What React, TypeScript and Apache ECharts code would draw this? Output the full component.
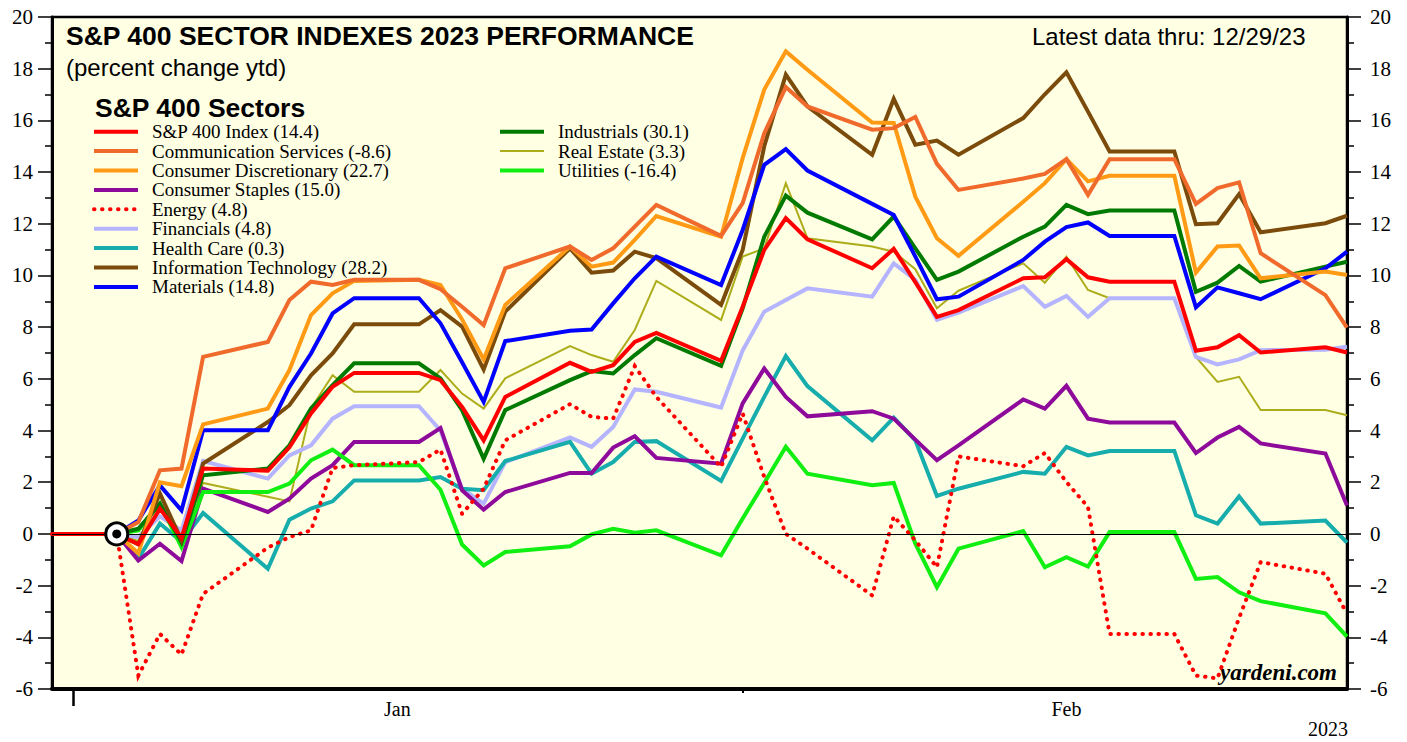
import React, { useEffect, useRef } from 'react';
import * as echarts from 'echarts';

// x values: day number counted from the left edge of the plot (weekday observations)
const days = [0, 3, 4, 5, 6, 7, 10, 11, 12, 13, 14, 17, 18, 19, 20, 21, 24, 25, 26, 27, 28, 31, 32, 33, 34, 35, 38, 39, 40, 41, 42, 45, 46, 47, 48, 49, 52, 53, 54, 55, 56, 59, 60];

const sp400 = [0, 0, -0.4, 0.98, -0.15, 2.53, 2.45, 3.35, 4.66, 5.69, 6.23, 6.23, 5.95, 4.91, 3.62, 5.3, 6.62, 6.27, 6.53, 7.43, 7.78, 6.7, 8.79, 10.99, 12.22, 11.4, 10.28, 11.03, 9.74, 8.4, 8.66, 9.89, 9.93, 10.63, 9.93, 9.76, 9.76, 7.09, 7.22, 7.69, 7.02, 7.22, 7.02];
const commServices = [0, 0, 0.46, 2.46, 2.53, 6.85, 7.43, 9.05, 9.76, 9.63, 9.83, 9.83, 9.47, 8.79, 8.08, 10.28, 11.12, 10.6, 11.05, 11.89, 12.73, 11.53, 12.8, 15.5, 17.29, 16.54, 15.64, 15.7, 16.13, 14.32, 13.31, 13.75, 13.93, 14.5, 13.12, 14.5, 14.5, 12.77, 13.38, 13.6, 10.86, 9.24, 7.98];
const consDisc = [0, 0, -0.75, 2.0, 1.85, 4.24, 4.85, 6.34, 8.47, 9.31, 9.79, 9.83, 9.63, 8.3, 6.75, 8.86, 11.12, 10.34, 10.5, 11.38, 12.3, 11.5, 14.54, 17.19, 18.67, 17.96, 15.92, 15.9, 13.05, 11.44, 10.76, 12.85, 13.57, 14.5, 13.64, 13.86, 13.86, 10.11, 11.12, 11.16, 9.89, 10.15, 10.02];
const consStaples = [0, 0, -1.03, -0.38, -1.05, 1.75, 0.85, 1.36, 2.14, 2.66, 3.56, 3.56, 4.1, 1.69, 0.94, 1.62, 2.36, 2.36, 3.34, 3.78, 2.94, 2.72, 5.05, 6.4, 5.3, 4.55, 4.75, 4.46, 3.65, 2.85, 3.43, 5.2, 4.85, 5.73, 4.46, 4.31, 4.31, 3.13, 3.73, 4.14, 3.5, 3.11, 1.1];
const energy = [0, 0, -5.48, -3.87, -4.67, -2.32, -0.53, -0.12, 0.14, 2.55, 2.66, 2.78, 3.26, 0.78, 1.75, 3.62, 5.02, 4.53, 4.46, 6.49, 5.3, 2.59, 4.66, 2.2, 0.0, -0.57, -2.38, 0.68, -0.25, -1.29, 3.0, 2.62, 3.13, 2.01, 1.04, -3.87, -3.87, -5.48, -5.59, -3.25, -1.09, -1.54, -3.09];
const financials = [0, 0, -0.12, 0.68, 0.14, 2.82, 2.14, 3.04, 3.43, 4.46, 4.94, 4.94, 4.0, 1.75, 1.17, 2.78, 3.73, 3.37, 4.14, 5.59, 5.5, 4.89, 7.1, 8.6, 9.05, 9.5, 9.18, 10.47, 9.83, 8.28, 8.56, 9.59, 8.79, 9.21, 8.4, 9.12, 9.12, 6.85, 6.56, 6.75, 7.11, 7.13, 7.24];
const healthCare = [0, 0, -0.96, 0.4, -0.3, 0.81, -1.35, 0.55, 0.98, 1.26, 2.07, 2.07, 2.2, 1.75, 1.69, 2.82, 3.56, 2.33, 2.78, 3.56, 3.59, 2.05, 3.69, 5.3, 6.88, 5.72, 3.62, 4.5, 3.62, 1.47, 1.75, 2.4, 2.33, 3.37, 3.04, 3.21, 3.21, 0.72, 0.4, 1.45, 0.4, 0.52, -0.34];
const infoTech = [0, 0, -0.4, 1.57, -0.25, 2.72, 4.33, 4.98, 6.14, 6.98, 8.11, 8.11, 8.66, 8.02, 6.36, 8.6, 11.05, 10.11, 10.19, 10.92, 10.67, 8.86, 10.99, 15.0, 17.77, 16.54, 14.67, 16.83, 15.06, 15.22, 14.67, 16.09, 17.01, 17.86, 16.34, 14.8, 14.8, 11.98, 12.02, 13.15, 11.67, 12.02, 12.31];
const materials = [0, 0, 0.52, 1.88, 0.91, 4.01, 4.01, 5.69, 6.98, 8.53, 9.12, 9.12, 8.15, 6.64, 5.11, 7.46, 7.86, 7.91, 8.92, 9.89, 10.73, 9.63, 11.76, 14.28, 14.89, 14.06, 12.77, 12.34, 10.73, 9.08, 9.18, 10.6, 11.31, 11.87, 12.05, 11.53, 11.53, 8.77, 9.54, 9.31, 9.08, 10.28, 10.92];
const industrials = [0, 0, 0.2, 1.17, -0.32, 2.27, 2.53, 3.43, 4.85, 5.76, 6.6, 6.6, 6.02, 4.79, 2.91, 4.79, 5.95, 6.3, 6.21, 6.92, 7.57, 6.5, 8.73, 11.5, 13.09, 12.43, 11.4, 12.28, 11.05, 9.83, 10.15, 11.5, 11.89, 12.73, 12.37, 12.51, 12.51, 9.37, 9.72, 10.37, 9.76, 10.34, 10.53];
const realEstate = [0, 0, -0.27, 1.49, -0.19, 1.97, 1.44, 1.26, 4.86, 6.14, 5.5, 5.5, 6.34, 5.43, 4.85, 6.02, 7.27, 6.92, 6.66, 7.89, 9.79, 8.28, 10.73, 11.05, 13.57, 11.44, 11.12, 10.92, 10.24, 8.73, 9.41, 10.47, 9.72, 10.73, 9.44, 9.12, 9.12, 6.85, 5.88, 6.08, 4.79, 4.79, 4.59];
const utilities = [0, 0, 0.14, 1.17, -0.51, 1.62, 1.62, 1.95, 2.85, 3.26, 2.66, 2.66, 1.71, -0.41, -1.22, -0.7, -0.48, -0.02, 0.2, 0.05, 0.14, -0.83, 0.6, 1.97, 3.37, 2.33, 1.88, 1.97, -0.38, -2.06, -0.57, 0.11, -1.29, -0.9, -1.26, 0.07, 0.07, -1.74, -1.67, -2.26, -2.6, -3.07, -3.97];

const startMarker = [[3, 0]];

const monthLabels = ['Jan', 'Feb'];
const monthLabelDays = [16, 47];
const yearTickDays = [1];
const monthTickDays = [32];

const legendLeft = [
  'S&P 400 Index (14.4)',
  'Communication Services (-8.6)',
  'Consumer Discretionary (22.7)',
  'Consumer Staples (15.0)',
  'Energy (4.8)',
  'Financials (4.8)',
  'Health Care (0.3)',
  'Information Technology (28.2)',
  'Materials (14.8)',
];
const legendRight = ['Industrials (30.1)', 'Real Estate (3.3)', 'Utilities (-16.4)'];

type Spec = { name: string; values: number[]; color: string; width: number; dash?: number[] };

// drawing order (first drawn = bottom)
const specs: Spec[] = [
  { name: 'Real Estate (3.3)', values: realEstate, color: '#ADAD1C', width: 2 },
  { name: 'Financials (4.8)', values: financials, color: '#B4B4FF', width: 4 },
  { name: 'Health Care (0.3)', values: healthCare, color: '#17ADAD', width: 4 },
  { name: 'Consumer Staples (15.0)', values: consStaples, color: '#8E0A9A', width: 4 },
  { name: 'Utilities (-16.4)', values: utilities, color: '#11EE11', width: 4 },
  { name: 'Energy (4.8)', values: energy, color: '#FF0000', width: 4, dash: [0.5, 7.5] },
  { name: 'Industrials (30.1)', values: industrials, color: '#007A00', width: 4 },
  { name: 'Information Technology (28.2)', values: infoTech, color: '#7B4B0B', width: 4 },
  { name: 'Materials (14.8)', values: materials, color: '#0000FF', width: 4 },
  { name: 'Consumer Discretionary (22.7)', values: consDisc, color: '#FF9A14', width: 4 },
  { name: 'Communication Services (-8.6)', values: commServices, color: '#F06A2C', width: 4 },
  { name: 'S&P 400 Index (14.4)', values: sp400, color: '#FF0000', width: 4 },
];

const SERIF = 'Liberation Serif';
const SANS = 'Liberation Sans';

export default function App() {
  const ref = useRef<HTMLDivElement>(null);

  useEffect(() => {
    if (!ref.current) return;
    const chart = echarts.init(ref.current, undefined, { renderer: 'svg' });

    const lineSeries = specs.map((s, i) => ({
      type: 'line',
      name: s.name,
      data: days.map((d, k) => [d, s.values[k]]),
      symbol: 'none',
      showSymbol: false,
      silent: true,
      emphasis: { disabled: true },
      z: 2,
      lineStyle: {
        color: s.color,
        width: s.width,
        type: s.dash ? s.dash : 'solid',
        cap: s.dash ? 'round' : 'butt',
        join: 'miter',
      },
      itemStyle: { color: s.color },
      markLine:
        i === 0
          ? {
              silent: true,
              symbol: ['none', 'none'],
              label: { show: false },
              lineStyle: { color: '#000', width: 1, type: 'solid' },
              emphasis: { disabled: true },
              data: [{ yAxis: 0 }],
            }
          : undefined,
    }));

    const yAxisBase = {
      type: 'value',
      min: -6,
      max: 20,
      interval: 2,
      axisLine: { show: true, onZero: false, lineStyle: { color: '#000', width: 3 } },
      axisTick: { show: true, length: 14, lineStyle: { color: '#000', width: 1.5 } },
      minorTick: { show: true, splitNumber: 2, length: 7, lineStyle: { color: '#000', width: 1.5 } },
      splitLine: { show: false },
      minorSplitLine: { show: false },
    };

    const legendBase = {
      orient: 'vertical',
      itemWidth: 44,
      itemHeight: 14,
      itemGap: 0,
      selectedMode: false,
      itemStyle: { opacity: 0 },
      lineStyle: { width: 'inherit' },
      textStyle: {
        fontFamily: SERIF,
        fontSize: 19,
        color: '#000',
        lineHeight: 19.4,
        padding: [0, 0, 0, 9],
      },
    };

    chart.setOption({
      animation: false,
      backgroundColor: '#ffffff',
      grid: {
        left: 52,
        right: 60,
        top: 17,
        bottom: 53,
        show: true,
        backgroundColor: '#FFFFE4',
        borderColor: '#000',
        borderWidth: 2.5,
      },
      xAxis: [
        {
          type: 'value',
          min: 0,
          max: 60,
          position: 'bottom',
          axisLine: { show: true, onZero: false, lineStyle: { color: '#000', width: 4 } },
          axisTick: { show: true, customValues: yearTickDays, length: 17, lineStyle: { color: '#000', width: 2.5 } },
          axisLabel: {
            show: true,
            customValues: monthLabelDays,
            formatter: (v: number) => monthLabels[monthLabelDays.indexOf(v)] ?? '',
            fontFamily: SERIF,
            fontSize: 20,
            color: '#000',
            margin: 10,
          },
          splitLine: { show: false },
        },
        {
          type: 'value',
          min: 0,
          max: 60,
          position: 'bottom',
          axisLine: { show: false, onZero: false },
          axisTick: { show: true, customValues: monthTickDays, length: 4, lineStyle: { color: '#000', width: 2 } },
          axisLabel: { show: false },
          splitLine: { show: false },
        },
      ],
      yAxis: [
        {
          ...yAxisBase,
          position: 'left',
          axisLabel: { fontFamily: SERIF, fontSize: 21, color: '#000', margin: 19 },
        },
        {
          ...yAxisBase,
          position: 'right',
          axisLabel: { fontFamily: SERIF, fontSize: 21, color: '#000', margin: 23 },
        },
      ],
      legend: [
        { ...legendBase, left: 87, top: 117, data: legendLeft },
        { ...legendBase, left: 493, top: 117, data: legendRight },
      ],
      series: [
        ...lineSeries,
        {
          type: 'scatter',
          name: 'start',
          data: startMarker,
          symbol: 'circle',
          symbolSize: 22,
          silent: true,
          z: 5,
          itemStyle: { color: '#ffffff', borderColor: '#000', borderWidth: 3, opacity: 1 },
        },
        {
          type: 'scatter',
          name: 'start-dot',
          data: startMarker,
          symbol: 'circle',
          symbolSize: 9,
          silent: true,
          z: 6,
          itemStyle: { color: '#000', opacity: 1 },
        },
      ],
      graphic: [
        {
          type: 'text',
          left: 66,
          top: 22,
          style: {
            text: 'S&P 400 SECTOR INDEXES 2023 PERFORMANCE',
            font: `bold 26.5px "${SANS}"`,
            fill: '#000',
          },
        },
        {
          type: 'text',
          left: 66,
          top: 55,
          style: { text: '(percent change ytd)', font: `24px "${SANS}"`, fill: '#000' },
        },
        {
          type: 'text',
          left: 1032,
          top: 24,
          style: { text: 'Latest data thru: 12/29/23', font: `24px "${SANS}"`, fill: '#000' },
        },
        {
          type: 'text',
          left: 95,
          top: 94,
          style: { text: 'S&P 400 Sectors', font: `bold 26.5px "${SANS}"`, fill: '#000' },
        },
        {
          type: 'text',
          right: 1407 - 1337,
          top: 661,
          style: { text: 'yardeni.com', font: `italic bold 23px "${SERIF}"`, fill: '#000' },
        },
        {
          type: 'text',
          right: 1407 - 1348,
          top: 719,
          style: { text: '2023', font: `20px "${SERIF}"`, fill: '#000' },
        },
      ],
    });

    return () => chart.dispose();
  }, []);

  return (
    <div
      ref={ref}
      style={{ position: 'fixed', left: 0, top: 0, width: 1407, height: 742, background: '#fff' }}
    />
  );
}
